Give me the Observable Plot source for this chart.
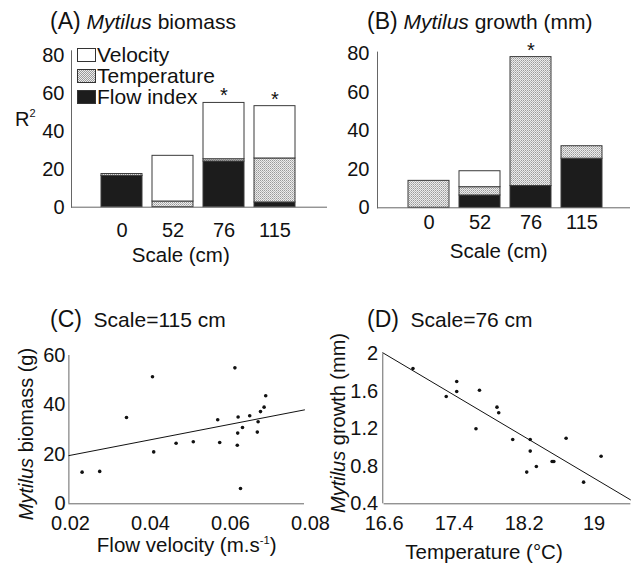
<!DOCTYPE html>
<html>
<head>
<meta charset="utf-8">
<script src="https://cdn.jsdelivr.net/npm/d3@7"></script>
<script src="https://cdn.jsdelivr.net/npm/@observablehq/plot@0.6"></script>
<style>
  html, body { margin: 0; padding: 0; background: #fff; }
  #root { position: relative; width: 634px; height: 569px; overflow: hidden; font-family: "Liberation Sans", Arial, sans-serif; color: #111; }
  .abs { position: absolute; white-space: nowrap; line-height: 1; }
  .panel { position: absolute; }
  .rot { transform: translate(-50%, -50%) rotate(-90deg); }
</style>
</head>
<body>
<svg width="0" height="0" style="position:absolute">
  <defs>
    <pattern id="stip" width="2" height="2" patternUnits="userSpaceOnUse">
      <rect width="2" height="2" fill="#ececec"/>
      <rect x="0" y="0" width="1" height="1" fill="#9a9a9a"/>
      <rect x="1" y="1" width="1" height="1" fill="#b8b8b8"/>
    </pattern>
  </defs>
</svg>
<div id="root"></div>
<script>
// ---------- data ----------
const scales = ["0", "52", "76", "115"];
const seriesNames = ["Flow index", "Temperature", "Velocity"];   // stack order bottom -> top
const legendOrder = ["Velocity", "Temperature", "Flow index"];
const seriesFill = {"Flow index": "#1c1c1c", "Temperature": "url(#stip)", "Velocity": "#ffffff"};

// Panel A: Mytilus biomass, R2 by scale
const flowA = [16.5, 0, 24.1, 2.5];
const tempA = [1.0, 3.0, 1.2, 23.2];
const velA  = [0, 24.1, 29.7, 27.6];
const sigA  = ["76", "115"];

// Panel B: Mytilus growth, R2 by scale
const flowB = [0, 6.4, 11.3, 25.5];
const tempB = [14.0, 4.3, 67.0, 6.5];
const velB  = [0, 8.3, 0, 0];
const sigB  = ["76"];

const ticksR2 = [0, 20, 40, 60, 80];

// Panel C: biomass vs flow velocity (scale 115 cm)
const velC = [0.0229, 0.0273, 0.0340, 0.0405, 0.0408, 0.0464, 0.0507, 0.0568, 0.0573, 0.0611, 0.0617,
              0.0618, 0.0619, 0.0625, 0.0630, 0.0648, 0.0667, 0.0669, 0.0675, 0.0684, 0.0688];
const bioC = [12.8, 13.1, 34.9, 51.4, 21.0, 24.5, 25.1, 34.0, 24.8, 55.0, 23.7,
              28.6, 35.1, 6.2, 30.9, 35.6, 29.0, 33.2, 37.3, 39.1, 43.7];
const regCx = [0.0196, 0.0785];
const regCy = [19.5, 38.0];
const domainCx = [0.02, 0.08];
const ticksCx = [0.02, 0.04, 0.06, 0.08];
const ticksCy = [0, 20, 40, 60];

// Panel D: growth vs temperature (scale 76 cm)
const tempD = [16.93, 17.31, 17.43, 17.43, 17.65, 17.69, 17.89, 17.91, 18.07, 18.23, 18.27,
               18.27, 18.34, 18.52, 18.54, 18.68, 18.88, 19.08];
const growD = [1.844, 1.545, 1.705, 1.598, 1.200, 1.612, 1.431, 1.371, 1.086, 0.738, 1.086,
               0.962, 0.798, 0.852, 0.852, 1.100, 0.631, 0.908];
const regDx = [16.585, 19.415];
const regDy = [2.011, 0.443];
const domainDx = [16.6, 19.42];
const domainDy = [0.4, 2];
const ticksDx = [16.6, 17.4, 18.2, 19];
const ticksDy = [0.4, 0.8, 1.2, 1.6, 2];

// ---------- helpers ----------
const root = document.getElementById("root");
const axisStroke = "#666";
const baseStyle = {fontFamily: "'Liberation Sans', Arial, sans-serif", fontSize: "20px", background: "transparent", overflow: "visible", color: "#111"};

function rowsFor(flow, temp, vel) {
  const out = [];
  scales.forEach((s, i) => {
    const vals = {"Flow index": flow[i], "Temperature": temp[i], "Velocity": vel[i]};
    for (const name of seriesNames) if (vals[name] > 0) out.push({scale: s, series: name, value: vals[name]});
  });
  return out;
}
function totals(flow, temp, vel) { return scales.map((s, i) => flow[i] + temp[i] + vel[i]); }

function place(el, left, top) {
  const d = document.createElement("div");
  d.className = "panel";
  d.style.left = left + "px"; d.style.top = top + "px";
  d.appendChild(el);
  root.appendChild(d);
}
function text(html, left, top, size, extra) {
  const d = document.createElement("div");
  d.className = "abs" + (extra && extra.rot ? " rot" : "");
  d.style.left = left + "px"; d.style.top = top + "px";
  d.style.fontSize = size + "px";
  if (extra && extra.center && !extra.rot) d.style.transform = "translateX(-50%)";
  d.innerHTML = html;
  root.appendChild(d);
}

function barPanel(flow, temp, vel, sig, opts) {
  const rows = rowsFor(flow, temp, vel);
  const tot = totals(flow, temp, vel);
  return Plot.plot({
    width: opts.width, height: 280,
    marginLeft: opts.ml, marginRight: opts.mr, marginTop: opts.mt, marginBottom: opts.mb,
    style: baseStyle,
    x: {domain: scales, range: opts.xrange, paddingInner: 0.2, paddingOuter: 0.1, tickSize: 0, tickPadding: opts.xpad, label: null},
    y: {domain: opts.ydomain, ticks: ticksR2, tickSize: 0, tickPadding: opts.ypad, label: null},
    color: {type: "identity"},
    marks: [
      Plot.barY(rows, Plot.stackY({x: "scale", y: "value", z: "series", fill: d => seriesFill[d.series], stroke: "#3a3a3a", strokeWidth: 1, inset: 0})),
      Plot.text(sig, {x: d => d, y: d => tot[scales.indexOf(d)], text: d => "*", dy: -7, fontSize: 20}),
      Plot.ruleY([0], {stroke: axisStroke}),
      Plot.frame({anchor: "left", stroke: axisStroke})
    ]
  });
}

// ---------- Panel A ----------
place(barPanel(flowA, tempA, velA, sigA, {width: 330, ml: 71, mr: 3, mt: 50.3, mb: 73.3, xrange: [96, 300], ydomain: [0, 82.5], xpad: 16, ypad: 7}), 0, 0);
// ---------- Panel B ----------
place(barPanel(flowB, tempB, velB, sigB, {width: 317, ml: 60, mr: 4, mt: 51.6, mb: 72.7, xrange: [85.6, 290.4], ydomain: [0, 80.9], xpad: 7, ypad: 8}), 317, 0);

// ---------- Panel C ----------
const dataC = velC.map((v, i) => ({v, b: bioC[i]}));
place(Plot.plot({
  width: 317, height: 279, marginLeft: 70, marginRight: 7, marginTop: 65, marginBottom: 65.7,
  style: baseStyle,
  x: {domain: domainCx, ticks: ticksCx, tickFormat: d => String(d), tickSize: 0, tickPadding: 11.5, label: null},
  y: {domain: [0, 60], ticks: ticksCy, tickSize: 0, tickPadding: 5, label: null},
  marks: [
    Plot.ruleY([0], {x1: regCx[0], x2: regCx[1], stroke: axisStroke}),
    Plot.ruleX([regCx[0]], {stroke: axisStroke}),
    Plot.line(regCx.map((x, i) => ({x, y: regCy[i]})), {x: "x", y: "y", stroke: "#111", strokeWidth: 1}),
    Plot.dot(dataC, {x: "v", y: "b", r: 1.8, fill: "#111", stroke: "none"})
  ]
}), 0, 290);

// ---------- Panel D ----------
const dataD = tempD.map((t, i) => ({t, g: growD[i]}));
place(Plot.plot({
  width: 317, height: 279, marginLeft: 66.6, marginRight: 3.65, marginTop: 63.3, marginBottom: 65.7,
  style: baseStyle,
  x: {domain: domainDx, ticks: ticksDx, tickFormat: d => String(d), tickSize: 0, tickPadding: 11.5, label: null},
  y: {domain: domainDy, ticks: ticksDy, tickFormat: d => String(d), tickSize: 0, tickPadding: 6, label: null},
  marks: [
    Plot.ruleY([domainDy[0]], {stroke: axisStroke}),
    Plot.ruleX([regDx[0]], {stroke: axisStroke}),
    Plot.line(regDx.map((x, i) => ({x, y: regDy[i]})), {x: "x", y: "y", stroke: "#111", strokeWidth: 1}),
    Plot.dot(dataD, {x: "t", y: "g", r: 1.8, fill: "#111", stroke: "none"})
  ]
}), 317, 290);

// ---------- Legend (panel A) ----------
legendOrder.forEach((name, i) => {
  const box = document.createElement("div");
  box.style.cssText = `position:absolute;left:77px;top:${48.3 + i * 21}px;width:17px;height:12px;border:1px solid #333;background:${seriesFill[name] === "url(#stip)" ? "repeating-conic-gradient(#9a9a9a 0 25%, #ececec 0 50%) 0 0/2px 2px" : seriesFill[name]};`;
  root.appendChild(box);
  text(name, 97, 44 + i * 21, 21);
});

// ---------- Titles & labels ----------
text('<span style="font-size:23px">(A)</span> <i>Mytilus</i> biomass', 50, 9.5, 21);
text('<span style="font-size:23px">(B)</span> <i>Mytilus</i> growth (mm)', 367, 9.5, 21);
text('<span style="font-size:23px">(C)</span>&nbsp; Scale=115 cm', 50, 308, 21);
text('<span style="font-size:23px">(D)</span>&nbsp; Scale=76 cm', 367, 308, 21);

text('R<sup style="font-size:0.55em;vertical-align:0.8em">2</sup>', 15, 108, 20);
text('Scale (cm)', 180.8, 262 - 17.4, 20.5, {center: true});
text('Scale (cm)', 498.7, 258 - 17.4, 20.5, {center: true});
text('Flow velocity (m.s<sup style="font-size:0.55em;vertical-align:0.75em">-1</sup>)', 186.7, 552.3 - 17.4, 20.5, {center: true});
text('Temperature (°C)', 484, 559 - 17.4, 20.5, {center: true});
text('<i>Mytilus</i> biomass (g)', 26.4, 434.2, 20, {rot: true});
text('<i>Mytilus</i> growth (mm)', 338.4, 423.3, 20, {rot: true});
</script>
</body>
</html>
